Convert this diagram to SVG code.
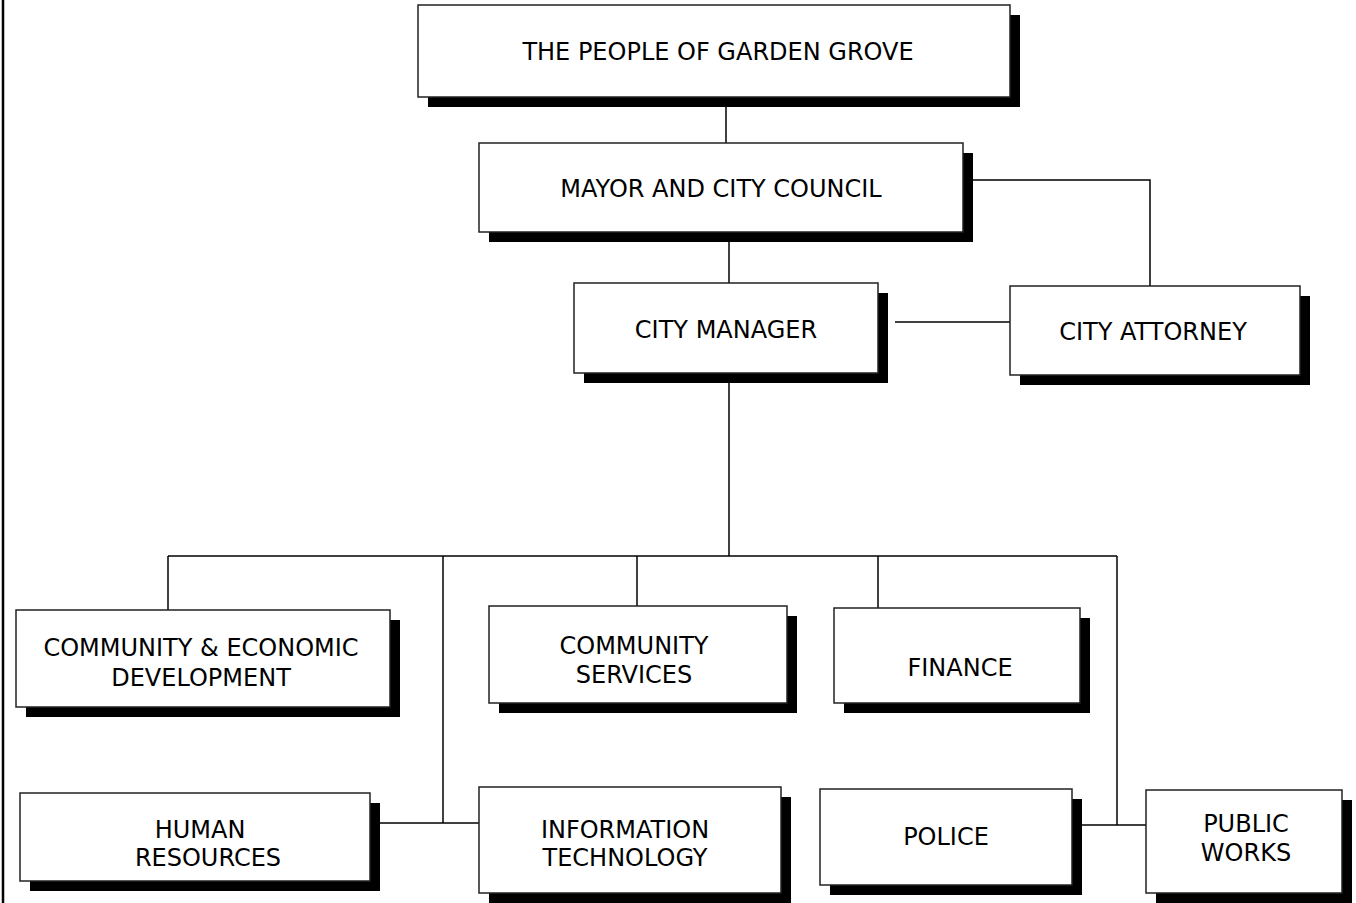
<svg xmlns="http://www.w3.org/2000/svg" width="1356" height="903" viewBox="0 0 1356 903">
<style>
.sh{fill:#000}
.bx{fill:#fff;stroke:#222;stroke-width:1.5}
.t{font-family:"DejaVu Sans",Verdana,sans-serif;font-size:24px;fill:#000;text-anchor:middle}
.c{stroke:#000;stroke-width:1.5;fill:none}
</style>
<rect x="0" y="0" width="1356" height="903" fill="#fff"/>
<line x1="3" y1="0" x2="3" y2="903" stroke="#000" stroke-width="2.5"/>
<g id="connectors">
<line class="c" x1="726" y1="97" x2="726" y2="143"/>
<polyline class="c" points="972,180 1150,180 1150,286"/>
<line class="c" x1="729" y1="241" x2="729" y2="283"/>
<line class="c" x1="895" y1="322" x2="1010" y2="322"/>
<line class="c" x1="729" y1="382" x2="729" y2="556"/>
<line class="c" x1="168" y1="556" x2="1117" y2="556"/>
<line class="c" x1="168" y1="556" x2="168" y2="610"/>
<line class="c" x1="637" y1="556" x2="637" y2="610"/>
<line class="c" x1="878" y1="556" x2="878" y2="608"/>
<line class="c" x1="443" y1="556" x2="443" y2="823"/>
<line class="c" x1="1117" y1="556" x2="1117" y2="825"/>
<line class="c" x1="380" y1="823" x2="479" y2="823"/>
<line class="c" x1="1081" y1="825" x2="1146" y2="825"/>
</g>
<g id="people">
<rect class="sh" x="428" y="15" width="592" height="92"/>
<rect class="bx" x="418" y="5" width="592" height="92"/>
<text class="t" x="718" y="60">THE PEOPLE OF GARDEN GROVE</text>
</g>
<g id="mayor">
<rect class="sh" x="489" y="153" width="484" height="89"/>
<rect class="bx" x="479" y="143" width="484" height="89"/>
<text class="t" x="721" y="197">MAYOR AND CITY COUNCIL</text>
</g>
<g id="manager">
<rect class="sh" x="584" y="293" width="304" height="90"/>
<rect class="bx" x="574" y="283" width="304" height="90"/>
<text class="t" x="726" y="338">CITY MANAGER</text>
</g>
<g id="attorney">
<rect class="sh" x="1020" y="296" width="290" height="89"/>
<rect class="bx" x="1010" y="286" width="290" height="89"/>
<text class="t" x="1153" y="340">CITY ATTORNEY</text>
</g>
<g id="ced">
<rect class="sh" x="26" y="620" width="374" height="97"/>
<rect class="bx" x="16" y="610" width="374" height="97"/>
<text class="t" x="201" y="656">COMMUNITY &amp; ECONOMIC</text>
<text class="t" x="201" y="686">DEVELOPMENT</text>
</g>
<g id="cs">
<rect class="sh" x="499" y="616" width="298" height="97"/>
<rect class="bx" x="489" y="606" width="298" height="97"/>
<text class="t" x="634" y="654">COMMUNITY</text>
<text class="t" x="634" y="683">SERVICES</text>
</g>
<g id="finance">
<rect class="sh" x="844" y="618" width="246" height="95"/>
<rect class="bx" x="834" y="608" width="246" height="95"/>
<text class="t" x="960" y="676">FINANCE</text>
</g>
<g id="hr">
<rect class="sh" x="30" y="803" width="350" height="88"/>
<rect class="bx" x="20" y="793" width="350" height="88"/>
<text class="t" x="200" y="838">HUMAN</text>
<text class="t" x="208" y="866">RESOURCES</text>
</g>
<g id="it">
<rect class="sh" x="489" y="797" width="302" height="106"/>
<rect class="bx" x="479" y="787" width="302" height="106"/>
<text class="t" x="625" y="838">INFORMATION</text>
<text class="t" x="625" y="866">TECHNOLOGY</text>
</g>
<g id="police">
<rect class="sh" x="830" y="799" width="252" height="96"/>
<rect class="bx" x="820" y="789" width="252" height="96"/>
<text class="t" x="946" y="845">POLICE</text>
</g>
<g id="publicworks">
<rect class="sh" x="1156" y="800" width="196" height="103"/>
<rect class="bx" x="1146" y="790" width="196" height="103"/>
<text class="t" x="1246" y="832">PUBLIC</text>
<text class="t" x="1246" y="861">WORKS</text>
</g>
</svg>
